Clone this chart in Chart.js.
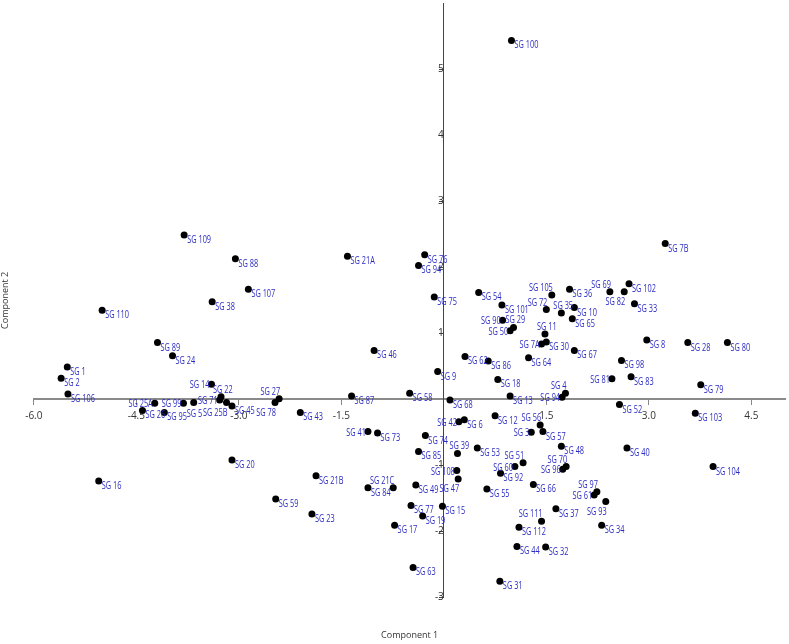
<!DOCTYPE html>
<html>
<head>
<meta charset="utf-8">
<script src="https://cdn.jsdelivr.net/npm/chart.js@4.4.1/dist/chart.umd.min.js"></script>
<style>
  html, body { margin: 0; padding: 0; background: #fff; }
  #wrap { width: 789px; height: 644px; }
</style>
</head>
<body>
<div id="wrap"><canvas id="pca" width="789" height="644"></canvas></div>
<script>
// sample names and their scores on the two components
const names = [
  'SG 1', 'SG 2', 'SG 106', 'SG 110', 'SG 109', 'SG 88', 'SG 107', 'SG 38', 'SG 89', 'SG 24',
  'SG 14', 'SG 22', 'SG 71', 'SG 25B', 'SG 45', 'SG 78', 'SG 27', 'SG 25A', 'SG 26', 'SG 99',
  'SG 95', 'SG 5', 'SG 16', 'SG 20', 'SG 59', 'SG 23', 'SG 21B', 'SG 43', 'SG 87', 'SG 41',
  'SG 73', 'SG 21C', 'SG 84', 'SG 17', 'SG 21A', 'SG 46', 'SG 58', 'SG 76', 'SG 94', 'SG 75',
  'SG 9', 'SG 68', 'SG 42', 'SG 6', 'SG 74', 'SG 85', 'SG 39', 'SG 108', 'SG 47', 'SG 49',
  'SG 77', 'SG 15', 'SG 19', 'SG 63', 'SG 100', 'SG 54', 'SG 101', 'SG 90', 'SG 29', 'SG 50',
  'SG 105', 'SG 72', 'SG 35', 'SG 36', 'SG 10', 'SG 65', 'SG 11', 'SG 7A', 'SG 30', 'SG 67',
  'SG 64', 'SG 62', 'SG 86', 'SG 18', 'SG 13', 'SG 94', 'SG 4', 'SG 12', 'SG 56', 'SG 3',
  'SG 57', 'SG 53', 'SG 51', 'SG 60', 'SG 92', 'SG 55', 'SG 66', 'SG 48', 'SG 70', 'SG 96',
  'SG 97', 'SG 61', 'SG 93', 'SG 37', 'SG 111', 'SG 112', 'SG 34', 'SG 44', 'SG 32', 'SG 31',
  'SG 69', 'SG 82', 'SG 102', 'SG 33', 'SG 8', 'SG 98', 'SG 81', 'SG 83', 'SG 52', 'SG 7B',
  'SG 28', 'SG 80', 'SG 79', 'SG 103', 'SG 40', 'SG 104'
];
const comp1 = [
  -5.51, -5.60, -5.50, -5.00, -3.80, -3.05, -2.86, -3.39, -4.19, -3.97,
  -3.40, -3.26, -3.28, -3.18, -3.10, -2.47, -2.41, -4.23, -4.41, -3.81,
  -4.09, -3.66, -5.05, -3.10, -2.46, -1.93, -1.87, -2.10, -1.35, -1.11,
  -0.97, -0.74, -1.11, -0.72, -1.41, -1.02, -0.50, -0.28, -0.37, -0.14,
  -0.09, 0.09, 0.22, 0.30, -0.27, -0.37, 0.20, 0.19, 0.21, -0.41,
  -0.48, -0.02, -0.31, -0.45, 0.99, 0.51, 0.85, 0.86, 1.02, 0.97,
  1.58, 1.50, 1.72, 1.84, 1.91, 1.88, 1.48, 1.43, 1.50, 1.91,
  1.24, 0.31, 0.65, 0.79, 0.97, 1.73, 1.78, 0.75, 1.41, 1.28,
  1.45, 0.49, 1.16, 1.04, 0.83, 0.63, 1.31, 1.72, 1.79, 1.74,
  2.24, 2.20, 2.37, 1.64, 1.43, 1.10, 2.31, 1.07, 1.49, 0.82,
  2.43, 2.64, 2.71, 2.79, 2.97, 2.60, 2.46, 2.74, 2.57, 3.24,
  3.57, 4.15, 3.76, 3.68, 2.68, 3.94
];
const comp2 = [
  0.49, 0.32, 0.08, 1.35, 2.49, 2.13, 1.67, 1.48, 0.86, 0.66,
  0.23, 0.04, -0.01, -0.05, -0.10, -0.05, 0.01, -0.06, -0.17, -0.06,
  -0.20, -0.05, -1.24, -0.92, -1.51, -1.74, -1.16, -0.20, 0.05, -0.49,
  -0.51, -1.34, -1.34, -1.91, 2.17, 0.74, 0.09, 2.19, 2.03, 1.55,
  0.42, -0.01, -0.34, -0.31, -0.55, -0.79, -0.82, -1.08, -1.21, -1.30,
  -1.61, -1.62, -1.77, -2.55, 5.44, 1.62, 1.43, 1.20, 1.09, 1.04,
  1.58, 1.36, 1.31, 1.67, 1.39, 1.22, 0.99, 0.84, 0.87, 0.74,
  0.63, 0.65, 0.58, 0.30, 0.05, 0.03, 0.09, -0.25, -0.39, -0.50,
  -0.49, -0.74, -0.96, -1.02, -1.12, -1.36, -1.29, -0.71, -1.02, -1.06,
  -1.40, -1.45, -1.55, -1.66, -1.85, -1.94, -1.91, -2.23, -2.24, -2.76,
  1.63, 1.63, 1.75, 1.45, 0.90, 0.59, 0.31, 0.34, -0.08, 2.36,
  0.86, 0.86, 0.22, -0.21, -0.74, -1.02
];
const xTicks = [-6.0, -4.5, -3.0, -1.5, 1.5, 3.0, 4.5];
const yTicks = [-3, -2, -1, 1, 2, 3, 4, 5];

// where a label sits when it would collide with its neighbours (default: right of the dot)
const labelSide = {
  'SG 14': 'l', 'SG 71': 'l', 'SG 25A': 'l', 'SG 99': 'l', 'SG 41': 'l', 'SG 42': 'l',
  'SG 108': 'l', 'SG 94#2': 'l', 'SG 3': 'l', 'SG 60': 'l', 'SG 96': 'l', 'SG 61': 'l',
  'SG 90': 'l', 'SG 50': 'l', 'SG 7A': 'l', 'SG 81': 'l',
  'SG 27': 'al', 'SG 21C': 'al', 'SG 4': 'al', 'SG 56': 'al', 'SG 51': 'al', 'SG 70': 'al',
  'SG 97': 'al', 'SG 111': 'al', 'SG 105': 'al', 'SG 72': 'al', 'SG 69': 'al',
  'SG 22': 'a', 'SG 39': 'a', 'SG 29': 'a', 'SG 11': 'a', 'SG 35': 'a',
  'SG 25B': 'bl', 'SG 78': 'bl', 'SG 93': 'bl', 'SG 82': 'bl', 'SG 47': 'bl',
  'SG 5': 'b'
};
const sideOffsets = {
  r:  { dx: 3,  dy: 5,  right: false },
  l:  { dx: -2, dy: 1,  right: true },
  al: { dx: 1,  dy: -7, right: true },
  bl: { dx: 1,  dy: 10, right: true },
  a:  { dx: -8, dy: -7, right: false },
  b:  { dx: -7, dy: 11, right: false }
};
const squeeze = 0.7;

const pointLabels = {
  id: 'pointLabels',
  afterDatasetsDraw(chart) {
    const ctx = chart.ctx;
    const meta = chart.getDatasetMeta(0);
    const seen = {};
    ctx.save();
    ctx.font = '10.5px "Open Sans"';
    ctx.fillStyle = '#2b2bc4';
    ctx.textBaseline = 'middle';
    meta.data.forEach((pt, i) => {
      const name = names[i];
      seen[name] = (seen[name] || 0) + 1;
      const key = seen[name] > 1 ? name + '#' + seen[name] : name;
      const o = sideOffsets[labelSide[key] || 'r'];
      const w = ctx.measureText(name).width * squeeze;
      let tx = pt.x + o.dx;
      if (o.right) tx -= w;
      ctx.save();
      ctx.translate(tx, pt.y + o.dy);
      ctx.scale(squeeze, 1);
      ctx.fillText(name, 0, 0);
      ctx.restore();
    });
    ctx.restore();
  }
};

const tickFont = { size: 10, family: 'Open Sans' };
const titleFont = { size: 9, family: 'Open Sans' };

new Chart(document.getElementById('pca'), {
  type: 'scatter',
  data: {
    datasets: [{
      data: names.map((n, i) => ({ x: comp1[i], y: comp2[i] })),
      xAxisID: 'x',
      yAxisID: 'y',
      pointRadius: 3.5,
      pointHoverRadius: 3.5,
      pointBackgroundColor: '#000',
      pointBorderWidth: 0
    }]
  },
  options: {
    responsive: false,
    animation: false,
    devicePixelRatio: 1,
    layout: { padding: { top: 2, right: 0, bottom: 0, left: 0 } },
    plugins: { legend: { display: false }, tooltip: { enabled: false } },
    scales: {
      x: {
        type: 'linear', min: -6, max: 5, position: { y: 0 },
        afterBuildTicks: s => { s.ticks = xTicks.map(v => ({ value: v })); },
        ticks: { callback: v => v.toFixed(1), font: tickFont, color: '#333', padding: 6, maxRotation: 0, autoSkip: false },
        grid: { drawOnChartArea: false, drawTicks: true, tickLength: 5, color: '#888' },
        border: { display: true, color: '#8a8a8a', width: 2 }
      },
      y: {
        type: 'linear', min: -3, max: 6, position: { x: 0 },
        afterBuildTicks: s => { s.ticks = yTicks.map(v => ({ value: v })); },
        afterFit: s => { s.paddingTop = 0; s.paddingBottom = 0; },
        ticks: { callback: v => String(v), font: tickFont, color: '#333', padding: 1, autoSkip: false },
        grid: { drawOnChartArea: false, drawTicks: true, tickLength: 4, color: '#444' },
        border: { display: true, color: '#444', width: 1 }
      },
      x2: {
        type: 'linear', position: 'bottom', min: -6, max: 5,
        ticks: { display: false },
        grid: { display: false, drawTicks: false },
        border: { display: false },
        title: { display: true, text: 'Component 1', font: titleFont, color: '#333', padding: { top: 33, bottom: 3 } }
      },
      y2: {
        type: 'linear', position: 'left', min: -3, max: 6,
        ticks: { display: false },
        grid: { display: false, drawTicks: false },
        border: { display: false },
        title: { display: true, text: 'Component 2', font: titleFont, color: '#333', padding: { top: 0, bottom: 23 } }
      }
    }
  },
  plugins: [pointLabels]
});
</script>
</body>
</html>
